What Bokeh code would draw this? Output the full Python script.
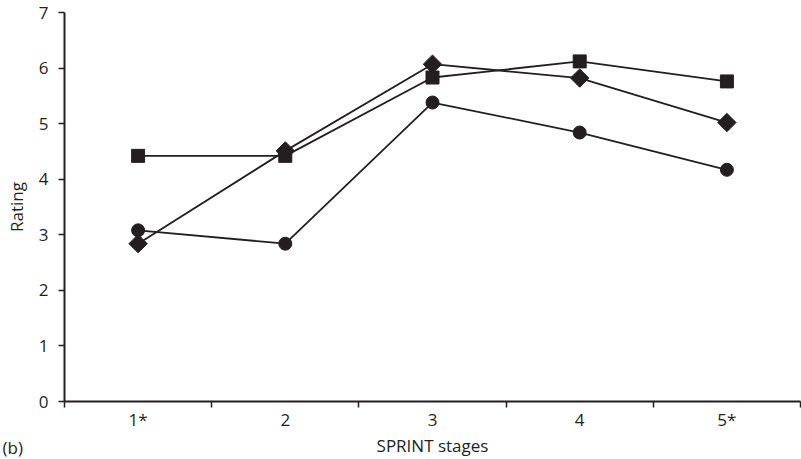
import math
from bokeh.plotting import figure
from bokeh.models import FixedTicker, Title, Range1d
from bokeh.embed import file_html
from bokeh.resources import INLINE

stages = [1, 2, 3, 4, 5]
stage_labels = ["1*", "2", "3", "4", "5*"]
squares = [4.42, 4.42, 5.83, 6.12, 5.76]
diamonds = [2.84, 4.51, 6.07, 5.82, 5.02]
circles = [3.08, 2.84, 5.38, 4.84, 4.17]
y_ticks = [0, 1, 2, 3, 4, 5, 6, 7]

INK = "#231f20"
FONT = "Open Sans"
FS = "17px"

p = figure(width=801, height=459, output_backend="svg", toolbar_location=None,
           x_range=Range1d(0.5, 5.5), y_range=Range1d(0, 7))
p.min_border_left = 64
p.min_border_top = 12
p.min_border_bottom = 58
p.min_border_right = 1
p.outline_line_color = None
p.grid.visible = False
p.background_fill_color = "white"
p.border_fill_color = "white"

# x axis: labels at centres, ticks between categories
xa = p.xaxis[0]
xa.ticker = FixedTicker(ticks=stages, minor_ticks=[0.5, 1.5, 2.5, 3.5, 4.5, 5.5])
xa.major_label_overrides = {s: l for s, l in zip(stages, stage_labels)}
xa.major_tick_out = 0
xa.major_tick_in = 0
xa.minor_tick_out = 6
xa.minor_tick_in = 0
xa.minor_tick_line_color = INK
xa.minor_tick_line_width = 1.5
xa.axis_line_color = INK
xa.axis_line_width = 2
xa.major_label_standoff = 0
xa.major_label_text_font = FONT
xa.major_label_text_font_size = FS
xa.major_label_text_color = INK
xa.axis_label = "SPRINT stages"
xa.axis_label_text_font = FONT
xa.axis_label_text_font_style = "normal"
xa.axis_label_text_font_size = FS
xa.axis_label_text_color = INK
xa.axis_label_standoff = 0

ya = p.yaxis[0]
ya.ticker = FixedTicker(ticks=y_ticks)
ya.minor_tick_line_color = None
ya.major_tick_out = 6
ya.major_tick_in = 0
ya.major_tick_line_color = INK
ya.major_tick_line_width = 1.5
ya.axis_line_color = INK
ya.axis_line_width = 2
ya.major_label_standoff = 10
ya.major_label_text_font = FONT
ya.major_label_text_font_size = FS
ya.major_label_text_color = INK
ya.axis_label = "Rating"
ya.axis_label_text_font = FONT
ya.axis_label_text_font_style = "normal"
ya.axis_label_text_font_size = FS
ya.axis_label_text_color = INK
ya.axis_label_standoff = 8

p.line(stages, squares, line_color=INK, line_width=1.8)
p.line(stages, diamonds, line_color=INK, line_width=1.8)
p.line(stages, circles, line_color=INK, line_width=1.8)
p.scatter(stages, squares, marker="square", size=13, fill_color=INK, line_color=INK)
p.scatter(stages, diamonds, marker="square", angle=math.pi / 4, size=13,
          fill_color=INK, line_color=INK)
p.scatter(stages, circles, marker="circle", size=13, fill_color=INK, line_color=INK)

tag = Title(text="(b)", align="left", vertical_align="top", offset=-62, standoff=-48,
            text_font=FONT, text_font_size=FS, text_font_style="normal", text_color=INK)
p.add_layout(tag, "below")

open("out.html", "w").write(file_html(p, INLINE))
